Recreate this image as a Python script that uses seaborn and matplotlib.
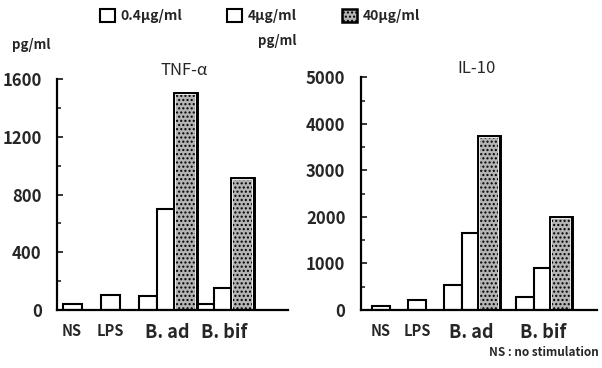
import numpy as np
import pandas as pd
import seaborn as sns
import matplotlib.pyplot as plt
import matplotlib.patheffects as pe
from matplotlib.patches import Patch
from matplotlib.ticker import MultipleLocator

# Stimulation groups and doses
groups = ["NS", "LPS", "B. ad", "B. bif"]
doses = ["0.4μg/ml", "4μg/ml", "40μg/ml"]

# TNF-α (pg/ml)
tnf_ns = 45
tnf_lps = 105
tnf_bad = [100, 700, 1490]
tnf_bbif = [45, 150, 900]

# IL-10 (pg/ml)
il10_ns = 80
il10_lps = 210
il10_bad = [540, 1650, 3700]
il10_bbif = [270, 900, 1950]

sns.set_theme(style="ticks")
plt.rcParams["font.family"] = ["Noto Sans CJK JP", "DejaVu Sans"]
plt.rcParams["font.weight"] = "bold"
plt.rcParams["hatch.linewidth"] = 1.0

HIGH_COLOR = "#b4b4b4"
palette = {"control": "white", doses[0]: "white", doses[1]: "white", doses[2]: HIGH_COLOR}
# double outline (black / white / black) for the highest dose
double_edge = [pe.Stroke(linewidth=5.0, foreground="black"),
               pe.Stroke(linewidth=1.3, foreground="white"),
               pe.Normal()]


def build(ns, lps, bad, bbif, split):
    rows = [("NS", "control", ns), ("LPS", "control", lps)]
    rows += [(f"B. ad|{d}", d, v) for d, v in zip(doses, bad)]
    rows += [(f"B. bif|{d}", d, v) for d, v in zip(doses, bbif)]
    df = pd.DataFrame(rows, columns=["slot", "dose", "value"])
    order = (["NS", "_gap1", "LPS", "_gap2"]
             + [f"B. ad|{d}" for d in doses]
             + (["_gap3"] if split else [])
             + [f"B. bif|{d}" for d in doses])
    return df, order


def draw(ax, df, order, ymax, major, title, title_x, xlim):
    sns.barplot(data=df, x="slot", y="value", hue="dose", order=order,
                palette=palette, dodge=False, width=1.0, edgecolor="black",
                linewidth=1.5, errorbar=None, legend=False, ax=ax)
    for p in ax.patches:
        fc = p.get_facecolor()
        if fc[0] < 0.95:
            p.set_hatch("....")
            p.set_edgecolor("black")
            p.set_linewidth(0)
            p.set_path_effects(double_edge)
    # group labels centred under their bars
    centers = []
    for g in groups:
        idx = [i for i, s in enumerate(order) if s == g or s.startswith(g + "|")]
        centers.append(np.mean(idx))
    ax.set_xticks(centers)
    ax.set_xticklabels(groups)
    for lab in ax.get_xticklabels():
        lab.set_fontsize(10.5 if lab.get_text() in ("NS", "LPS") else 13)
    ax.tick_params(axis="x", length=0, pad=9)
    ax.set_xlim(*xlim)
    ax.set_ylim(0, ymax)
    ax.yaxis.set_major_locator(MultipleLocator(major))
    ax.yaxis.set_minor_locator(MultipleLocator(major / 2))
    ax.tick_params(axis="y", which="major", direction="in", length=4,
                   width=1.3, labelsize=12, pad=11)
    ax.tick_params(axis="y", which="minor", direction="in", length=3, width=1.2)
    ax.set_xlabel("")
    ax.set_ylabel("")
    ax.set_title(title, fontsize=12, fontweight="normal", x=title_x, pad=3)
    sns.despine(ax=ax)
    for s in ("left", "bottom"):
        ax.spines[s].set_linewidth(1.6)
        ax.spines[s].set_color("black")
        ax.spines[s].set_zorder(5)


fig = plt.figure(figsize=(6.02, 3.68), dpi=100)
ax1 = fig.add_axes([0.0947, 0.1576, 0.3837, 0.6277])
ax2 = fig.add_axes([0.5992, 0.1576, 0.392, 0.6323])

df1, order1 = build(tnf_ns, tnf_lps, tnf_bad, tnf_bbif, split=False)
df2, order2 = build(il10_ns, il10_lps, il10_bad, il10_bbif, split=True)
draw(ax1, df1, order1, 1600, 400, "TNF-α", 0.55, (-0.79, 11.37))
draw(ax2, df2, order2, 5000, 1000, "IL-10", 0.49, (-1.13, 12.0))

fig.text(12 / 602, 1 - 45 / 368, "pg/ml", fontsize=9.5, va="center", ha="left")
fig.text(258 / 602, 1 - 41 / 368, "pg/ml", fontsize=9.5, va="center", ha="left")
fig.text(0.995, 1 - 352 / 368, "NS : no stimulation", fontsize=8.5,
         va="center", ha="right")

handles = [Patch(facecolor="white", edgecolor="black", linewidth=1.5),
           Patch(facecolor="white", edgecolor="black", linewidth=1.5),
           Patch(facecolor=HIGH_COLOR, edgecolor="black", linewidth=1.8, hatch="....")]
fig.legend(handles, doses, loc="upper left", bbox_to_anchor=(100 / 602, 1 - 9 / 368),
           ncol=3, frameon=False, fontsize=10, handlelength=1.1, handleheight=1.1,
           columnspacing=3.2, handletextpad=0.4, borderpad=0, borderaxespad=0)

fig.savefig("out.png", dpi=100)
